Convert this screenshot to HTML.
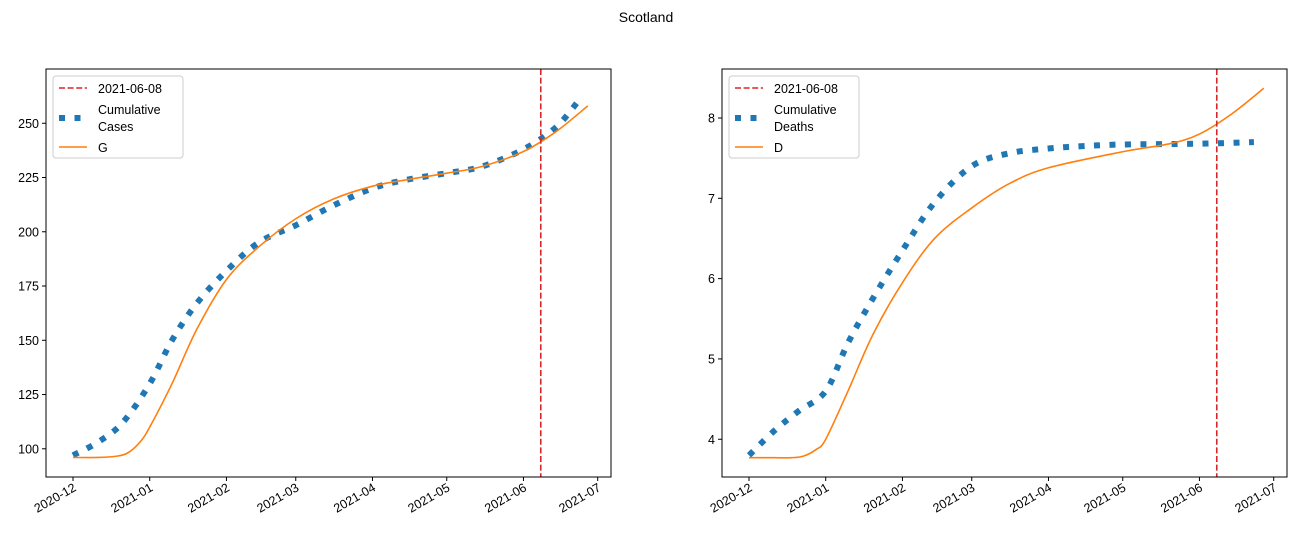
<!DOCTYPE html>
<html><head><meta charset="utf-8"><style>
body{margin:0;background:#fff;width:1296px;height:538px;overflow:hidden}
svg{font-family:"Liberation Sans","DejaVu Sans",sans-serif}
</style></head><body>
<svg id="fig" width="1296" height="538">
<text x="646" y="22" font-size="14" text-anchor="middle">Scotland</text>
</svg>
<script>
const tickDates=["2020-12","2021-01","2021-02","2021-03","2021-04","2021-05","2021-06","2021-07"];
const tickDays=[0,31,62,90,121,151,182,212];
const vlineDay=189;
const casesDays=[0,10,20,31,40,50,62,75,90,105,121,135,151,165,182,195,204];
const casesVals=[97,103,112,130,150,167,182,195,203,212,220,224,227,230,238,248,260];
const gDays=[0,10,17,22,27,31,40,50,62,75,90,105,121,135,151,165,182,195,208];
const gVals=[96,96,96.5,98,103,110,130,155,178,193,206,215,221,224,227,230,237,246,258];
const deathsDays=[0,10,20,31,40,50,62,75,90,105,121,135,151,182,204];
const deathsVals=[3.8,4.1,4.35,4.6,5.2,5.75,6.35,6.95,7.4,7.56,7.62,7.65,7.67,7.68,7.70];
const dDays=[0,10,17,22,27,31,40,50,62,75,90,105,121,151,170,182,195,208];
const dVals=[3.77,3.77,3.77,3.79,3.87,4.0,4.6,5.3,5.95,6.5,6.88,7.18,7.38,7.58,7.68,7.8,8.05,8.37];
const leftTicks=[100,125,150,175,200,225,250];
const rightTicks=[4,5,6,7,8];
const NS="http://www.w3.org/2000/svg";
const svg=document.getElementById('fig');
function mk(t,a,p){const e=document.createElementNS(NS,t);for(const k in a)e.setAttribute(k,a[k]);(p||svg).appendChild(e);return e;}
function smooth(pts){
  let d='M'+pts[0][0]+','+pts[0][1];
  for(let i=0;i<pts.length-1;i++){
    const p0=pts[Math.max(0,i-1)],p1=pts[i],p2=pts[i+1],p3=pts[Math.min(pts.length-1,i+2)];
    const c1=[p1[0]+(p2[0]-p0[0])/6,p1[1]+(p2[1]-p0[1])/6];
    const c2=[p2[0]-(p3[0]-p1[0])/6,p2[1]-(p3[1]-p1[1])/6];
    d+=` C${c1[0]},${c1[1]} ${c2[0]},${c2[1]} ${p2[0]},${p2[1]}`;
  }
  return d;
}
function panel(off,y0,y1,yTicks,obsD,obsV,fitD,fitV,obsLbl,fitLbl,pfx){
  const L=46+off,R=611+off,T=69,B=477;
  const x=d=>73+off+2.475*d;
  const y=v=>B-(v-y0)/(y1-y0)*(B-T);
  const g=mk('g',{});
  
  
  yTicks.forEach(t=>{
    mk('line',{x1:L-4,x2:L,y1:y(t),y2:y(t),stroke:'#000'},g);
    const tx=mk('text',{x:L-7,y:y(t)+4.5,'font-size':12.5,'text-anchor':'end'},g);tx.textContent=t;
    
    
  });
  tickDays.forEach((d,i)=>{
    mk('line',{x1:x(d),x2:x(d),y1:B,y2:B+4,stroke:'#000'},g);
    const tx=mk('text',{x:x(d)+4,y:B+13,'font-size':12.5,'text-anchor':'end',transform:`rotate(-30 ${x(d)+4} ${B+13})`},g);
    tx.textContent=tickDates[i];
    
    
  });
  const cp=mk('clipPath',{id:'c'+pfx},g);mk('rect',{x:L,y:T,width:R-L,height:B-T},cp);
  const obs=mk('path',{d:smooth(obsD.map((d,i)=>[x(d),y(obsV[i])])),fill:'none',stroke:'#1f77b4','stroke-width':6,'stroke-dasharray':'6 9.5','clip-path':`url(#c${pfx})`},g);
  
  
  const fit=mk('path',{d:smooth(fitD.map((d,i)=>[x(d),y(fitV[i])])),fill:'none',stroke:'#ff7f0e','stroke-width':1.6,'clip-path':`url(#c${pfx})`},g);
  
  
  const vl=mk('line',{x1:x(vlineDay),x2:x(vlineDay),y1:T,y2:B,stroke:'#d62728','stroke-width':1.6,'stroke-dasharray':'6 2.6'},g);
  
  
  mk('rect',{x:L,y:T,width:R-L,height:B-T,fill:'none',stroke:'#000','stroke-width':1},g);
  const lg=mk('g',{},g);
  
  
  mk('rect',{x:L+7,y:T+7,width:130,height:82,rx:3,fill:'#fff',stroke:'#ccc'},lg);
  mk('line',{x1:L+13,x2:L+41,y1:T+19,y2:T+19,stroke:'#d62728','stroke-width':1.6,'stroke-dasharray':'6 2.6'},lg);
  mk('line',{x1:L+13,x2:L+41,y1:T+49,y2:T+49,stroke:'#1f77b4','stroke-width':6,'stroke-dasharray':'6 9.5'},lg);
  mk('line',{x1:L+13,x2:L+41,y1:T+78,y2:T+78,stroke:'#ff7f0e','stroke-width':1.6},lg);
  [['2021-06-08',T+24],['Cumulative',T+45],[obsLbl,T+62],[fitLbl,T+83]].forEach(([s,yy])=>{
    const t=mk('text',{x:L+52,y:yy,'font-size':12.5},lg);t.textContent=s;
  });
}
panel(0,87,275,leftTicks,casesDays,casesVals,gDays,gVals,'Cases','G','cases');
panel(676,3.53,8.61,rightTicks,deathsDays,deathsVals,dDays,dVals,'Deaths','D','deaths');
</script>
</body></html>
